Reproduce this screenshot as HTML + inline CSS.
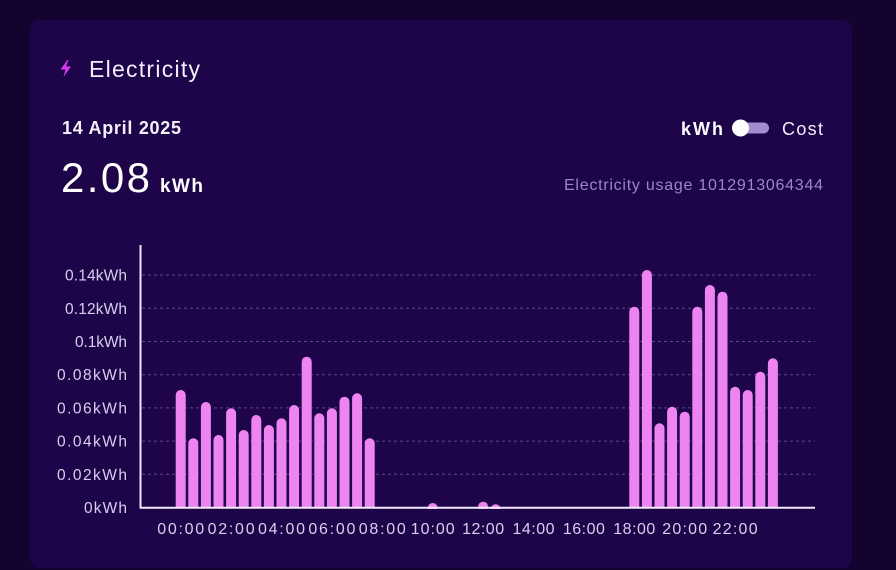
<!DOCTYPE html>
<html><head><meta charset="utf-8"><style>
html,body{margin:0;padding:0;background:#14032f;}
svg{display:block;}
text{font-family:"Liberation Sans",sans-serif;}
</style></head><body>
<svg width="896" height="570" viewBox="0 0 896 570" xmlns="http://www.w3.org/2000/svg">
<rect x="0" y="0" width="896" height="570" fill="#14032f"/>
<rect x="30" y="20" width="822" height="548" rx="10" fill="#1e0449"/>
<!-- bolt -->
<polygon points="67.5,60 60.5,69.5 65.5,69.5 63.5,77 71,66.5 66,66.5 68.5,60" fill="#d83ce8"/>
<text x="89" y="77" font-size="23" fill="#f3eefa" textLength="111" lengthAdjust="spacing">Electricity</text>
<text x="62" y="134" font-size="18" font-weight="bold" fill="#f5f1fb" textLength="119" lengthAdjust="spacing">14 April 2025</text>
<text x="61" y="192" font-size="42" fill="#ffffff" textLength="89" lengthAdjust="spacing">2.08</text>
<text x="160" y="192" font-size="19" font-weight="bold" fill="#ffffff" textLength="43" lengthAdjust="spacing">kWh</text>
<text x="681" y="135" font-size="18" font-weight="bold" fill="#ffffff" textLength="42" lengthAdjust="spacing">kWh</text>
<rect x="737" y="122.5" width="32" height="11" rx="5.5" fill="#a38ccf"/>
<circle cx="740.5" cy="128" r="8.5" fill="#ffffff"/>
<text x="782" y="135" font-size="18" fill="#f3eefa" textLength="41" lengthAdjust="spacing">Cost</text>
<text x="564" y="190" font-size="16" fill="#9c86cc" textLength="259" lengthAdjust="spacing">Electricity usage 1012913064344</text>
<!-- grid -->
<g stroke="#5a4a86" stroke-width="1" stroke-dasharray="3,3">
<line x1="142" y1="275" x2="815" y2="275"/>
<line x1="142" y1="308.3" x2="815" y2="308.3"/>
<line x1="142" y1="341.5" x2="815" y2="341.5"/>
<line x1="142" y1="374.7" x2="815" y2="374.7"/>
<line x1="142" y1="407.9" x2="815" y2="407.9"/>
<line x1="142" y1="441.1" x2="815" y2="441.1"/>
<line x1="142" y1="474.3" x2="815" y2="474.3"/>
</g>
<g font-size="15.5" fill="#d8d0ee" text-anchor="end">
<text x="127" y="280.5" textLength="62" lengthAdjust="spacing">0.14kWh</text>
<text x="127" y="313.8" textLength="62" lengthAdjust="spacing">0.12kWh</text>
<text x="127" y="347" textLength="52" lengthAdjust="spacing">0.1kWh</text>
<text x="127" y="380.2" textLength="70" lengthAdjust="spacing">0.08kWh</text>
<text x="127" y="413.4" textLength="70" lengthAdjust="spacing">0.06kWh</text>
<text x="127" y="446.6" textLength="70" lengthAdjust="spacing">0.04kWh</text>
<text x="127" y="479.8" textLength="70" lengthAdjust="spacing">0.02kWh</text>
<text x="127" y="513" textLength="43" lengthAdjust="spacing">0kWh</text>
</g>
<!-- bars -->
<g fill="#ee84f2">
<path d="M175.7,508 V395 A5,5 0 0 1 185.7,395 V508 Z"/>
<path d="M188.3,508 V443.3 A5,5 0 0 1 198.3,443.3 V508 Z"/>
<path d="M200.9,508 V407 A5,5 0 0 1 210.9,407 V508 Z"/>
<path d="M213.5,508 V440 A5,5 0 0 1 223.5,440 V508 Z"/>
<path d="M226.1,508 V413.3 A5,5 0 0 1 236.1,413.3 V508 Z"/>
<path d="M238.7,508 V435 A5,5 0 0 1 248.7,435 V508 Z"/>
<path d="M251.3,508 V420 A5,5 0 0 1 261.3,420 V508 Z"/>
<path d="M263.9,508 V430 A5,5 0 0 1 273.9,430 V508 Z"/>
<path d="M276.5,508 V423.3 A5,5 0 0 1 286.5,423.3 V508 Z"/>
<path d="M289.1,508 V410 A5,5 0 0 1 299.1,410 V508 Z"/>
<path d="M301.7,508 V361.7 A5,5 0 0 1 311.7,361.7 V508 Z"/>
<path d="M314.3,508 V418.3 A5,5 0 0 1 324.3,418.3 V508 Z"/>
<path d="M326.9,508 V413.3 A5,5 0 0 1 336.9,413.3 V508 Z"/>
<path d="M339.5,508 V401.7 A5,5 0 0 1 349.5,401.7 V508 Z"/>
<path d="M352.1,508 V398.3 A5,5 0 0 1 362.1,398.3 V508 Z"/>
<path d="M364.7,508 V443.3 A5,5 0 0 1 374.7,443.3 V508 Z"/>
<circle cx="432.7" cy="508" r="5"/>
<circle cx="483.1" cy="506.7" r="5"/>
<circle cx="495.7" cy="509.3" r="5"/>
<path d="M629.3,508 V311.7 A5,5 0 0 1 639.3,311.7 V508 Z"/>
<path d="M641.9,508 V275 A5,5 0 0 1 651.9,275 V508 Z"/>
<path d="M654.5,508 V428.3 A5,5 0 0 1 664.5,428.3 V508 Z"/>
<path d="M667.1,508 V411.7 A5,5 0 0 1 677.1,411.7 V508 Z"/>
<path d="M679.7,508 V416.7 A5,5 0 0 1 689.7,416.7 V508 Z"/>
<path d="M692.3,508 V311.7 A5,5 0 0 1 702.3,311.7 V508 Z"/>
<path d="M704.9,508 V290 A5,5 0 0 1 714.9,290 V508 Z"/>
<path d="M717.5,508 V296.7 A5,5 0 0 1 727.5,296.7 V508 Z"/>
<path d="M730.1,508 V391.7 A5,5 0 0 1 740.1,391.7 V508 Z"/>
<path d="M742.7,508 V395 A5,5 0 0 1 752.7,395 V508 Z"/>
<path d="M755.3,508 V376.7 A5,5 0 0 1 765.3,376.7 V508 Z"/>
<path d="M767.9,508 V363.3 A5,5 0 0 1 777.9,363.3 V508 Z"/>
</g>
<!-- cover below baseline -->
<rect x="140" y="509" width="680" height="10" fill="#1e0449"/>
<!-- axes -->
<line x1="140.5" y1="245" x2="140.5" y2="508.5" stroke="#f0eaf8" stroke-width="2"/>
<line x1="140" y1="507.8" x2="815" y2="507.8" stroke="#f0eaf8" stroke-width="2"/>
<g font-size="16" fill="#d8d0ee" text-anchor="middle">
<text x="180.7" y="534" textLength="47" lengthAdjust="spacing">00:00</text>
<text x="231.1" y="534" textLength="47" lengthAdjust="spacing">02:00</text>
<text x="281.5" y="534" textLength="47" lengthAdjust="spacing">04:00</text>
<text x="331.9" y="534" textLength="47" lengthAdjust="spacing">06:00</text>
<text x="382.3" y="534" textLength="47" lengthAdjust="spacing">08:00</text>
<text x="432.7" y="534" textLength="44" lengthAdjust="spacing">10:00</text>
<text x="483.1" y="534" textLength="42" lengthAdjust="spacing">12:00</text>
<text x="533.5" y="534" textLength="42" lengthAdjust="spacing">14:00</text>
<text x="583.9" y="534" textLength="42" lengthAdjust="spacing">16:00</text>
<text x="634.3" y="534" textLength="42" lengthAdjust="spacing">18:00</text>
<text x="684.7" y="534" textLength="45" lengthAdjust="spacing">20:00</text>
<text x="735.1" y="534" textLength="45" lengthAdjust="spacing">22:00</text>
</g>
</svg>
</body></html>
